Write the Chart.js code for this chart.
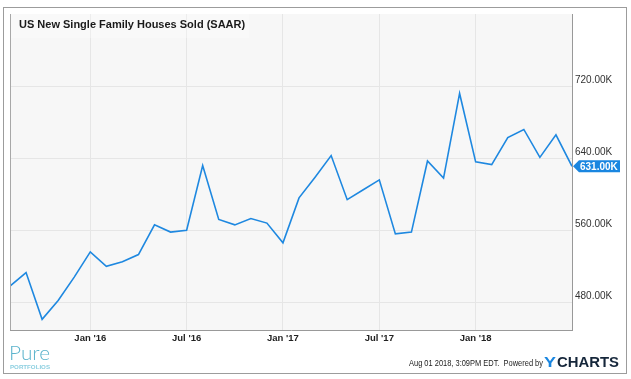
<!DOCTYPE html>
<html>
<head>
<meta charset="utf-8">
<script src="https://cdn.jsdelivr.net/npm/chart.js@4/dist/chart.umd.min.js"></script>
<style>
  html, body { margin: 0; padding: 0; background: #ffffff; }
  #wrap { position: relative; width: 631px; height: 379px; }
</style>
</head>
<body>
<div id="wrap"><canvas id="c" width="631" height="379"></canvas></div>
<script>
// ---- data (monthly, Aug 2015 .. Jul 2018 points, index 0..35) ----
const monthIndex = [0,1,2,3,4,5,6,7,8,9,10,11,12,13,14,15,16,17,18,19,20,21,22,23,24,25,26,27,28,29,30,31,32,33,34,35];
const salesK = [498, 513, 461, 482, 508, 536, 520, 525, 533, 566, 558, 560,
                632, 572, 566, 573, 568, 546, 596, 619, 643, 594, 605, 616,
                556, 558, 637, 618, 712, 636, 633, 663, 672, 641, 666, 631];
const xTickPositions = [5, 11, 17, 23, 29];
const xTickLabels = ["Jan '16", "Jul '16", "Jan '17", "Jul '17", "Jan '18"];
const yTickValues = [480, 560, 640, 720];
const chartTitle = "US New Single Family Houses Sold (SAAR)";
const lastValueLabel = "631.00K";
const footerText = "Aug 01 2018, 3:09PM EDT.  Powered by";

const FONT = '"Liberation Sans", Arial, Helvetica, sans-serif';
const LINE_COLOR = '#1e88e0';

function drawFitted(ctx, text, x, y, targetW) {
  const w = ctx.measureText(text).width;
  ctx.save();
  ctx.translate(x, y);
  ctx.scale(targetW / w, 1);
  ctx.fillText(text, 0, 0);
  ctx.restore();
}

const decor = {
  id: 'decor',
  beforeDraw(chart) {
    const ctx = chart.ctx, a = chart.chartArea;
    ctx.save();
    ctx.fillStyle = '#ffffff';
    ctx.fillRect(0, 0, chart.width, chart.height);
    ctx.fillStyle = '#f7f7f7';
    ctx.fillRect(a.left, a.top, a.right - a.left, a.bottom - a.top);
    // outer frame
    ctx.strokeStyle = '#9c9c9c';
    ctx.lineWidth = 1;
    ctx.strokeRect(3.5, 7.5, 623, 366);
    ctx.restore();
  },
  afterDatasetsDraw(chart) {
    const ctx = chart.ctx, a = chart.chartArea;
    ctx.save();
    // left border of plot
    ctx.strokeStyle = '#a8a8a8';
    ctx.lineWidth = 1;
    ctx.beginPath();
    ctx.moveTo(a.left + 0.5, a.top);
    ctx.lineTo(a.left + 0.5, a.bottom);
    ctx.stroke();
    // title box + title
    ctx.fillStyle = 'rgba(255,255,255,0.3)';
    ctx.fillRect(a.left + 1, a.top, 238, 24);
    ctx.fillStyle = '#1a1a1a';
    ctx.font = 'bold 11px ' + FONT;
    ctx.textBaseline = 'middle';
    ctx.textAlign = 'left';
    ctx.fillText(chartTitle, 19, 25);
    // last value flag
    const ys = chart.scales.y;
    const yv = ys.getPixelForValue(salesK[salesK.length - 1]);
    const x0 = a.right + 1;
    ctx.fillStyle = '#1a86e0';
    ctx.beginPath();
    ctx.moveTo(x0, yv);
    ctx.lineTo(x0 + 6, yv - 6);
    ctx.lineTo(x0 + 47, yv - 6);
    ctx.lineTo(x0 + 47, yv + 6);
    ctx.lineTo(x0 + 6, yv + 6);
    ctx.closePath();
    ctx.fill();
    ctx.fillStyle = '#ffffff';
    ctx.font = 'bold 10px ' + FONT;
    ctx.fillText(lastValueLabel, x0 + 7, yv + 0.5);
    // footer
    ctx.fillStyle = '#222222';
    ctx.font = '8.5px ' + FONT;
    ctx.textBaseline = 'alphabetic';
    drawFitted(ctx, footerText, 409, 366, 134);
    ctx.font = 'bold 14px ' + FONT;
    ctx.fillStyle = '#1a86e0';
    drawFitted(ctx, 'Y', 544, 367, 12);
    ctx.fillStyle = '#15263a';
    drawFitted(ctx, 'CHARTS', 557, 367, 62);
    // Pure Portfolios logo
    ctx.fillStyle = '#5bb3cc';
    ctx.font = '300 19px Lato, "Open Sans", sans-serif';
    drawFitted(ctx, 'Pure', 9, 360, 41);
    ctx.fillStyle = '#8ccfe0';
    ctx.font = 'bold 5.5px ' + FONT;
    drawFitted(ctx, 'PORTFOLIOS', 10, 369, 40);
    ctx.restore();
  }
};

new Chart(document.getElementById('c'), {
  type: 'line',
  data: {
    datasets: [{
      data: monthIndex.map((m, i) => ({ x: m, y: salesK[i] })),
      borderColor: LINE_COLOR,
      borderWidth: 1.6,
      pointRadius: 0,
      tension: 0,
      fill: false
    }]
  },
  options: {
    responsive: false,
    animation: false,
    devicePixelRatio: 1,
    layout: { padding: { left: 10, top: 14, right: 0, bottom: 0 } },
    plugins: { legend: { display: false }, tooltip: { enabled: false }, title: { display: false } },
    scales: {
      x: {
        type: 'linear',
        min: 0, max: 35,
        afterBuildTicks: (s) => { s.ticks = xTickPositions.map(v => ({ value: v })); },
        afterFit: (s) => { s.height = 49; },
        ticks: {
          autoSkip: false,
          maxRotation: 0,
          padding: 3,
          color: '#222',
          font: { family: FONT, size: 9.5, weight: 'bold' },
          callback: (v) => xTickLabels[xTickPositions.indexOf(v)]
        },
        grid: { color: '#e6e6e6', lineWidth: 1, drawTicks: false },
        border: { display: true, color: '#999999', width: 1 }
      },
      y: {
        position: 'right',
        min: 449.2, max: 800.3,
        afterBuildTicks: (s) => { s.ticks = yTickValues.map(v => ({ value: v })); },
        afterFit: (s) => { s.width = 59; },
        ticks: {
          padding: 3,
          labelOffset: -6,
          color: '#333',
          font: { family: FONT, size: 10 },
          callback: (v) => v.toFixed(2) + 'K'
        },
        grid: { color: '#e6e6e6', lineWidth: 1, drawTicks: false },
        border: { display: true, color: '#999999', width: 1 }
      }
    }
  },
  plugins: [decor]
});
</script>
</body>
</html>
